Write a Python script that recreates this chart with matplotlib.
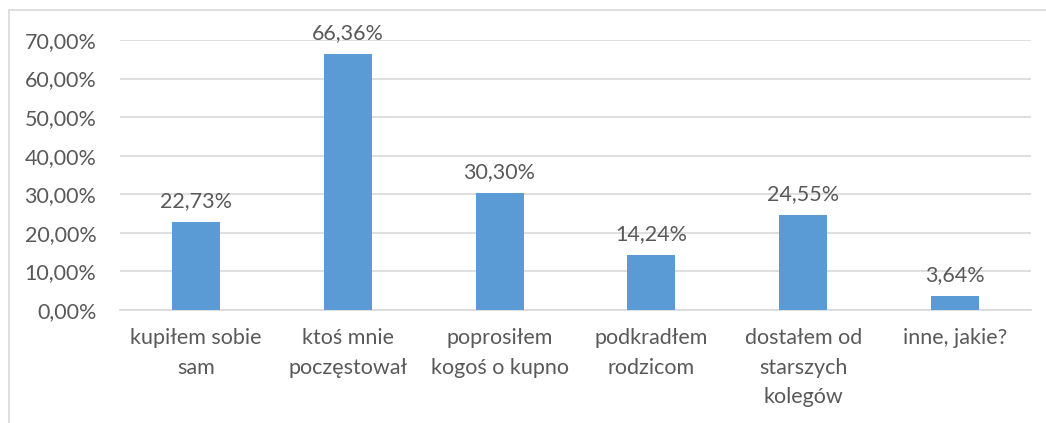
import matplotlib.pyplot as plt
from matplotlib.patches import Rectangle

categories = ["kupiłem sobie\nsam", "ktoś mnie\npoczęstował", "poprosiłem\nkogoś o kupno",
              "podkradłem\nrodzicom", "dostałem od\nstarszych\nkolegów", "inne, jakie?"]
values = [22.73, 66.36, 30.30, 14.24, 24.55, 3.64]
yticks = [0, 10, 20, 30, 40, 50, 60, 70]

plt.rcParams['font.family'] = ['Lato', 'DejaVu Sans']
txt = "#595959"
fs = 15.5

fig = plt.figure(figsize=(10.46, 4.23), dpi=100)
ax = fig.add_axes([120 / 1046, 1 - 310 / 423, 911 / 1046, 270 / 423])

# chart frame (only left and top edges visible)
fig.patches.append(Rectangle((9 / 1046, -0.1), 1.2, 1 - 10 / 423 + 0.1, transform=fig.transFigure,
                             fill=False, edgecolor="#d9d9d9", linewidth=1.2))

x = list(range(len(values)))
ax.bar(x, [v / 100 for v in values], width=0.316, color="#5b9bd5", zorder=3)
for xi, v in zip(x, values):
    ax.annotate(f"{v:.2f}%".replace(".", ","), (xi, v / 100), xytext=(0, 8),
                textcoords="offset points", ha="center", va="bottom", fontsize=fs, color=txt)

ax.set_xlim(-0.5, len(values) - 0.5)
ax.set_ylim(0, 0.7)
ax.set_yticks([t / 100 for t in yticks])
ax.set_yticklabels([f"{t:.2f}%".replace(".", ",") for t in yticks])
ax.yaxis.grid(True, color="#d9d9d9", linewidth=1.2, zorder=0)
ax.set_xticks(x)
ax.set_xticklabels(categories, linespacing=1.6)
ax.tick_params(axis="both", length=0, labelsize=fs, colors=txt)
ax.tick_params(axis="y", pad=17)
ax.tick_params(axis="x", pad=13)
for s in ["top", "right", "left"]:
    ax.spines[s].set_visible(False)
ax.spines["bottom"].set_color("#d9d9d9")
ax.spines["bottom"].set_linewidth(1.2)

fig.savefig("out.png", dpi=100)
